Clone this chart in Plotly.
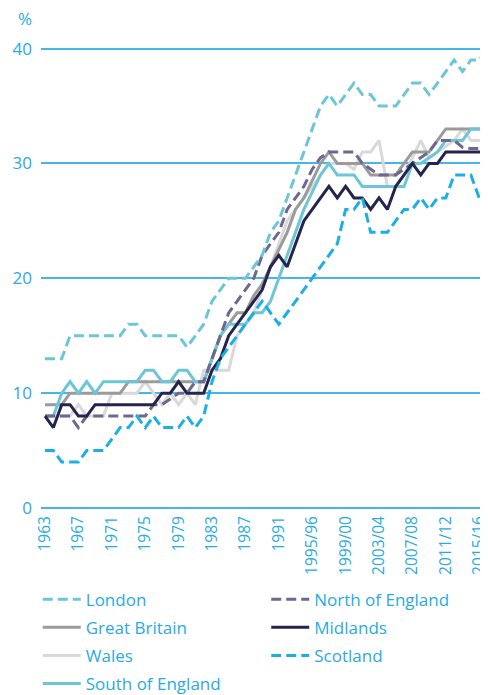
import plotly.graph_objects as go

# one category per year, financial years from 1994/95
years = ["1963", "1964", "1965", "1966", "1967", "1968", "1969", "1970", "1971", "1972",
         "1973", "1974", "1975", "1976", "1977", "1978", "1979", "1980", "1981", "1982",
         "1983", "1984", "1985", "1986", "1987", "1988", "1989", "1990", "1991", "1992",
         "1993", "1994/95", "1995/96", "1996/97", "1997/98", "1998/99", "1999/00", "2000/01",
         "2001/02", "2002/03", "2003/04", "2004/05", "2005/06", "2006/07", "2007/08",
         "2008/09", "2009/10", "2010/11", "2011/12", "2012/13", "2013/14", "2014/15",
         "2015/16", "2016/17"]
tick_labels = ["1963", "1967", "1971", "1975", "1979", "1983", "1987", "1991",
               "1995/96", "1999/00", "2003/04", "2007/08", "2011/12", "2015/16"]

london = [13, 13, 13, 15, 15, 15, 15, 15, 15, 15, 16, 16, 15, 15, 15, 15, 15, 14, 15, 16,
          18, 19, 20, 20, 20, 21, 22, 24, 25, 27, 29, 31, 33, 35, 36, 35, 36, 37, 36, 36,
          35, 35, 35, 36, 37, 37, 36, 37, 38, 39, 38, 39, 39, 40]
great_britain = [9, 9, 9, 10, 10, 10, 10, 10, 10, 10, 11, 11, 11, 11, 11, 11, 11, 11, 11, 11,
                 13, 15, 16, 17, 17, 18.5, 19.5, 21, 22.5, 24, 26, 27, 28.5, 30, 31, 30, 30, 30, 30, 29,
                 29, 29, 29, 30, 31, 31, 31, 32, 33, 33, 33, 33, 33, 33]
wales = [8, 8, 8, 8, 9, 8, 8, 8, 10, 10, 10, 10, 11, 10, 9, 10, 9, 10, 9, 12,
         12, 12, 12, 15, 16, 17, 19, 21, 23, 25, 26, 27, 28, 29, 30, 30, 30, 29.5, 31, 31,
         32, 28, 28, 29, 30.5, 32, 30.5, 31, 31.5, 32, 33, 32, 32, 32]
south = [8, 8, 10, 11, 10, 11, 10, 11, 11, 11, 11, 11, 12, 12, 11, 11, 12, 12, 11, 11,
         13, 15, 16, 16, 16, 17, 17, 18, 20, 22, 24, 26, 27.5, 29, 30, 29, 29, 29, 28, 28,
         28, 28, 28, 28, 30, 30, 30.5, 31, 32, 32, 32, 33, 33, 33]
north = [8, 8, 8, 8, 7, 8, 8, 8, 8, 8, 8, 8, 8, 9, 9, 9.5, 10, 10, 11, 11,
         13, 15, 17, 18, 19, 20, 22, 23, 24, 26, 27, 28, 29.5, 30.5, 31, 31, 31, 31, 30, 29.5,
         29, 29, 29, 29.5, 30, 30.5, 31, 32, 32, 32, 31.4, 31.3, 31.3, 31.3]
midlands = [8, 7, 9, 9, 8, 8, 9, 9, 9, 9, 9, 9, 9, 9, 10, 10, 11, 10, 10, 10,
            12, 13, 15, 16, 17, 18, 19, 21, 22, 21, 23, 25, 26, 27, 28, 27, 28, 27, 27, 26,
            27, 26, 28, 29, 30, 29, 30, 30, 31, 31, 31, 31, 31, 31]
scotland = [5, 5, 4, 4, 4, 5, 5, 5, 6, 7, 7, 8, 7, 8, 7, 7, 7, 8, 7, 8,
            11, 13, 14, 15, 16, 17, 18, 17, 16, 17, 18, 19, 20, 21, 22, 23, 26, 26, 27, 24,
            24, 24, 25, 26, 26, 27, 26, 27, 27, 29, 29, 29, 27, 28]

BLUE = "#29abe2"
FONT = "Open Sans"
DASH = "10px,5px"

# (name, values, colour, dash, legend, rank) in drawing order
series = [
    ("Wales", wales, "#d9d9d9", "solid", "legend", 3),
    ("Great Britain", great_britain, "#9b9b9b", "solid", "legend", 2),
    ("South of England", south, "#6cc6d8", "solid", "legend", 4),
    ("North of England", north, "#6e6790", DASH, "legend2", 1),
    ("Midlands", midlands, "#24244f", "solid", "legend2", 2),
    ("Scotland", scotland, "#1cafe5", DASH, "legend2", 3),
    ("London", london, "#6cc6d8", DASH, "legend", 1),
]

fig = go.Figure()
for name, vals, color, dash, leg, rank in series:
    fig.add_trace(go.Scatter(
        x=years, y=vals, name=name, mode="lines",
        line=dict(color=color, width=3, dash=dash),
        legend=leg, legendrank=rank, legendgroup=name,
    ))

legend_style = dict(
    orientation="v", xref="container", yref="container", xanchor="left", yanchor="top",
    font=dict(family=FONT, size=17, color=BLUE), itemwidth=38,
    tracegroupgap=3, bgcolor="rgba(0,0,0,0)",
)
# the page body adds an 8px margin, so the figure is 8px smaller than the window
fig.update_layout(
    width=480, height=687,
    margin=dict(l=33, r=0, t=36, b=187, autoexpand=False),
    paper_bgcolor="white", plot_bgcolor="white",
    font=dict(family=FONT, color=BLUE),
    legend=dict(x=0.062, y=0.165, **legend_style),
    legend2=dict(x=0.538, y=0.165, **legend_style),
    annotations=[dict(text="%", xref="paper", yref="paper", x=-0.036, y=1.054,
                      xanchor="center", yanchor="middle", showarrow=False,
                      font=dict(family=FONT, size=17, color=BLUE))],
)
fig.update_xaxes(
    type="category", range=[-0.48, 53.05], tickvals=tick_labels, tickangle=-90,
    tickfont=dict(family=FONT, size=15.5, color=BLUE), showgrid=False, showline=False,
    ticks="", ticklabelshift=0, ticklabelstandoff=4,
)
fig.update_yaxes(
    range=[0, 40.4], tickvals=[0, 10, 20, 30, 40], showgrid=True, gridcolor="#45b6e6",
    gridwidth=2, zeroline=True, zerolinecolor="#45b6e6", zerolinewidth=2, showline=False,
    tickfont=dict(family=FONT, size=17, color=BLUE), ticks="", ticklabelstandoff=8,
)

fig.write_html("out.html")
